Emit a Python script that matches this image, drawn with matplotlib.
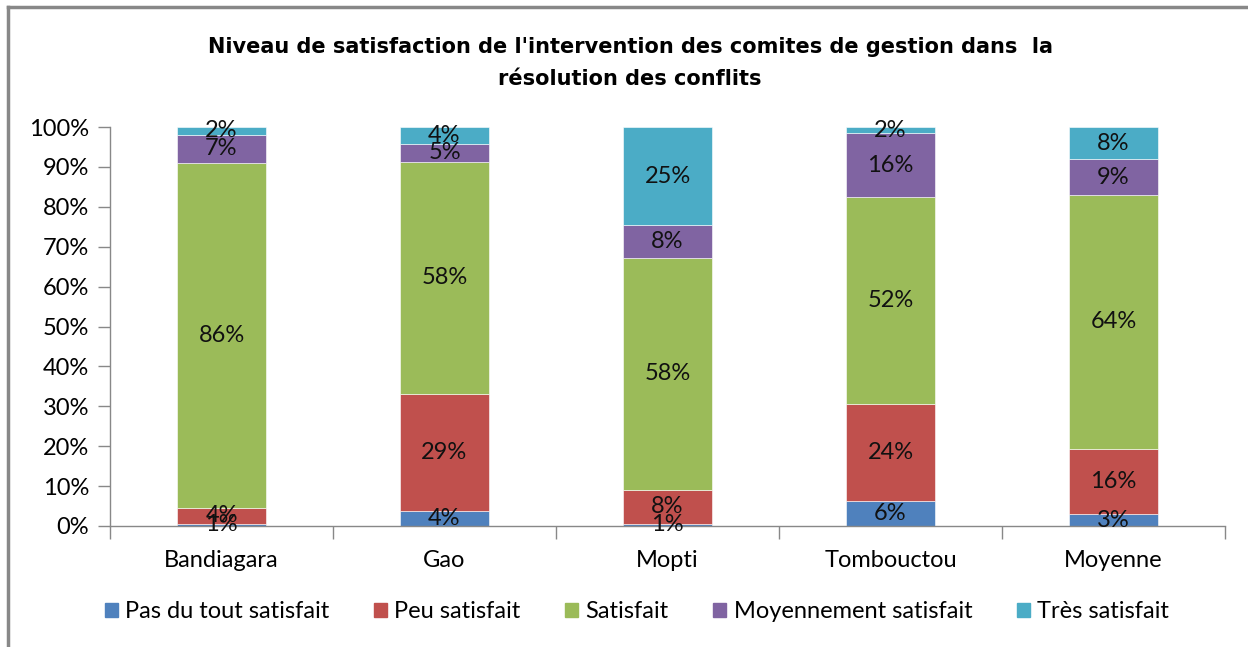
import matplotlib
matplotlib.use("Agg")
import matplotlib.pyplot as plt
import numpy as np
from matplotlib.lines import Line2D
from matplotlib.patches import Rectangle

categories = ["Bandiagara", "Gao", "Mopti", "Tombouctou", "Moyenne"]
series_names = ["Pas du tout satisfait", "Peu satisfait", "Satisfait",
                "Moyennement satisfait", "Très satisfait"]
pas_du_tout = [0.6, 3.8, 0.6, 6.3, 3.0]
peu = [3.9, 29.4, 8.4, 24.3, 16.4]
satisfait = [86.4, 58.0, 58.2, 51.8, 63.6]
moyennement = [7.2, 4.6, 8.2, 16.0, 8.9]
tres = [1.9, 4.2, 24.6, 1.6, 8.1]
labels = [
    ["1%", "4%", "1%", "6%", "3%"],
    ["4%", "29%", "8%", "24%", "16%"],
    ["86%", "58%", "58%", "52%", "64%"],
    ["7%", "5%", "8%", "16%", "9%"],
    ["2%", "4%", "25%", "2%", "8%"],
]
colors = ["#4F81BD", "#C0504D", "#9BBB59", "#8064A2", "#4BACC6"]
yticks = [0, 10, 20, 30, 40, 50, 60, 70, 80, 90, 100]

series = [pas_du_tout, peu, satisfait, moyennement, tres]

plt.rcParams['font.family'] = ['Lato', 'DejaVu Sans']
FS = 17

W, H = 1248, 647
fig = plt.figure(figsize=(W / 100, H / 100), dpi=100)
ax = fig.add_axes([110 / W, 1 - 526 / H, (1225 - 110) / W, (526 - 127) / H])

x = np.arange(len(categories))
bottom = np.zeros(len(categories))
for vals, col, labs in zip(series, colors, labels):
    vals = np.array(vals)
    bars = ax.bar(x, vals, width=0.4, bottom=bottom, color=col,
                  edgecolor="white", linewidth=0.4, zorder=2)
    for b, lab in zip(bars, labs):
        cy = b.get_y() + b.get_height() / 2
        ax.text(b.get_x() + b.get_width() / 2, cy, lab, ha="center",
                va="center", fontsize=FS, color="#111111", zorder=3)
    bottom += vals

ax.set_xlim(-0.5, len(categories) - 0.5)
ax.set_ylim(0, 100)
ax.set_yticks(yticks)
ax.set_yticklabels([f"{t}%" for t in yticks], fontsize=FS)
ax.set_xticks(x)
ax.set_xticklabels(categories, fontsize=FS)
ax.tick_params(axis="x", length=0, pad=17)
ax.tick_params(axis="y", length=9, color="#888888", width=1, pad=6,
               direction="out")
for s in ["top", "right"]:
    ax.spines[s].set_visible(False)
for s in ["left", "bottom"]:
    ax.spines[s].set_color("#888888")
    ax.spines[s].set_linewidth(1)
# category separator ticks
ax.set_xticks(np.arange(-0.5, len(categories)), minor=True)
ax.tick_params(axis="x", which="minor", length=9, color="#888888", width=1)

title_family = ["DejaVu Sans"]
fig.text(630 / W, 1 - 47 / H, "Niveau de satisfaction de l'intervention des comites de gestion dans  la",
         ha="center", va="center", fontsize=15, fontweight="bold",
         family=title_family)
fig.text(630 / W, 1 - 79 / H, "résolution des conflits",
         ha="center", va="center", fontsize=15, fontweight="bold",
         family=title_family)

handles = [Rectangle((0, 0), 1, 1, color=c) for c in colors]
leg = fig.legend(handles, series_names, loc="center", ncol=5,
                 bbox_to_anchor=(637 / W, 1 - 612 / H), frameon=False,
                 fontsize=FS, handlelength=0.55, handleheight=0.55,
                 handletextpad=0.3, columnspacing=1.9)

# outer frame (top and left)
fig.add_artist(Line2D([8 / W, 1], [1 - 7 / H, 1 - 7 / H], color="#888888",
                      linewidth=2.5, transform=fig.transFigure))
fig.add_artist(Line2D([8 / W, 8 / W], [0, 1 - 7 / H], color="#888888",
                      linewidth=2.5, transform=fig.transFigure))

fig.savefig("out.png", dpi=100)
